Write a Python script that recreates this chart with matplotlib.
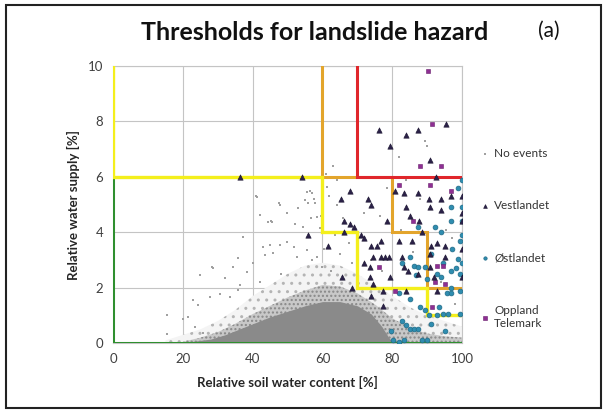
import matplotlib.pyplot as plt
import matplotlib.patches as patches

plt.rcParams['font.family'] = ['Lato', 'DejaVu Sans']
plt.rcParams['hatch.linewidth'] = 1.0

# --- Daten ---
# dichter Kern der "No events"-Punktwolke (Obergrenze)
core_x = [22, 28, 32, 36, 40, 45, 50, 55, 60, 65, 70, 74, 77, 79, 80]
core_top = [0.05, 0.15, 0.3, 0.5, 0.7, 0.95, 1.15, 1.35, 1.5, 1.5, 1.35, 1.05, 0.6, 0.2, 0.05]

# mitteldichte Punktwolke (Obergrenze)
mid_x = [20, 25, 30, 35, 40, 45, 50, 55, 60, 65, 70, 75, 80, 85, 90, 95, 100]
mid_top = [0.05, 0.2, 0.4, 0.7, 1.05, 1.35, 1.65, 1.9, 2.1, 2.05, 1.8, 1.4, 0.9, 0.55, 0.35, 0.25, 0.2]

# lockere Punktwolke (Obergrenze)
speck_x = [15, 20, 25, 30, 35, 40, 45, 50, 55, 60, 65, 70, 75, 80, 85, 90, 95, 100]
speck_top = [0.1, 0.3, 0.5, 0.8, 1.2, 1.7, 2.1, 2.5, 2.8, 2.9, 2.8, 2.5, 2.1, 1.7, 1.3, 1.0, 0.8, 0.6]

# einzelne "No events"-Punkte
noev_x = [41.2, 47.8, 49.8, 44.5, 45.5, 42.1, 53.1, 55.0, 55.5, 56.9, 55.9, 57.9, 52.1, 54.4,
          56.6, 58.4, 59.3, 43.0, 45.0, 47.8, 49.8, 37.3, 35.9, 34.5, 28.7, 24.9, 32.1, 38.3,
          40.2, 43.6, 45.9, 51.7, 52.6, 55.5, 56.9, 58.4, 59.8, 23.0, 24.4, 27.8, 30.7, 33.5,
          35.9, 21.6, 23.5, 25.9, 15.5, 15.5, 19.9, 28.2, 40.9, 45.3, 47.5, 63.0, 64.1, 56.4,
          57.5, 59.7, 61.3, 61.9, 64.1, 66.0, 63.5, 67.5, 65.0, 68.5, 62.5, 74.0, 77.0, 81.8,
          89.5, 90.0, 78.5, 84.0, 88.0, 95.5, 97.0, 86.0, 82.5, 76.5, 72.0, 94.0, 98.0, 43.0,
          39.0, 50.5, 53.5, 61.0, 42.0, 60.5, 48.0, 36.5]
noev_y = [5.28, 4.98, 4.68, 4.38, 4.38, 4.62, 4.86, 5.16, 5.46, 5.40, 5.05, 5.05, 4.30, 4.20,
          4.50, 4.56, 4.15, 3.48, 3.54, 3.54, 3.66, 3.84, 3.06, 2.75, 2.70, 2.45, 2.34, 2.57,
          2.88, 3.18, 3.24, 3.48, 3.12, 3.36, 3.00, 3.12, 2.75, 1.55, 1.37, 1.67, 1.79, 1.67,
          1.91, 0.95, 0.59, 0.35, 0.34, 1.00, 0.88, 2.75, 5.30, 4.40, 5.05, 6.40, 5.90, 5.50,
          5.20, 4.60, 5.65, 5.30, 5.00, 4.50, 3.90, 3.60, 3.20, 2.90, 2.60, 3.00, 2.60, 6.70,
          7.30, 7.10, 5.60, 5.90, 5.20, 4.10, 3.80, 3.30, 4.10, 4.60, 4.70, 2.20, 1.40, 6.00,
          6.00, 6.00, 6.00, 6.10, 2.20, 3.40, 2.50, 2.10]

# Vestlandet (Dreiecke)
vest_x = [36.5, 54.1, 76.2, 79.3, 83.8, 87.3, 95.4, 90.9, 92.6, 80.9, 83.4, 87.3, 90.6, 93.9,
          96.7, 100.0, 67.9, 65.2, 72.9, 73.8, 83.8, 90.8, 93.9, 78.5, 85.1, 87.6, 100.0, 100.0,
          66.3, 67.9, 69.0, 66.3, 55.8, 61.7, 70.9, 71.8, 73.8, 75.7, 76.8, 81.8, 85.6, 88.4,
          91.2, 92.9, 95.0, 100.0, 74.6, 76.8, 78.0, 79.0, 71.8, 73.5, 65.7, 82.9, 83.4, 84.5,
          87.3, 90.9, 90.9, 91.9, 100.0, 95.0, 68.5, 73.5, 74.6, 79.3, 74.0, 77.3, 77.3, 84.0,
          92.8]
vest_y = [6.0, 6.0, 7.7, 7.1, 7.5, 7.7, 7.9, 6.6, 6.0, 5.5, 5.4, 5.4, 5.2, 5.2,
          5.3, 5.3, 5.5, 5.2, 5.2, 5.0, 4.9, 4.9, 4.8, 4.4, 4.6, 4.4, 4.7, 4.4,
          4.4, 4.3, 4.2, 4.0, 3.9, 3.5, 3.9, 3.8, 3.5, 3.5, 3.7, 3.7, 3.7, 4.0,
          3.5, 3.6, 3.5, 3.4, 3.1, 3.1, 3.1, 3.1, 2.9, 2.75, 2.4, 3.1, 2.75, 2.6,
          2.5, 3.2, 2.75, 2.4, 2.4, 3.1, 2.0, 2.4, 2.15, 2.4, 1.7, 1.35, 1.9, 1.9,
          1.9]

# Østlandet (Kreise)
ost_x = [100.0, 98.9, 96.7, 100.0, 92.3, 96.7, 100.0, 87.3, 93.9, 100.0, 99.4, 97.2, 91.2,
         85.1, 82.9, 86.2, 87.3, 89.5, 94.5, 98.9, 100.0, 96.7, 98.3, 99.4, 92.8, 93.9, 86.7,
         89.9, 96.7, 99.4, 81.8, 95.6, 96.7, 85.1, 87.8, 89.5, 93.4, 90.6, 92.8, 94.5, 96.1,
         82.9, 85.1, 84.0, 86.2, 87.3, 79.6, 80.1, 81.8, 83.4, 88.4, 90.0, 95.0, 91.2, 99.4]
ost_y = [5.9, 5.6, 4.9, 4.9, 4.2, 4.4, 4.4, 4.2, 4.0, 3.9, 3.7, 3.4, 3.2,
         3.1, 2.9, 2.8, 2.75, 2.75, 2.9, 3.05, 2.9, 2.6, 2.7, 2.5, 2.5, 2.4, 2.45,
         2.3, 2.0, 1.9, 1.8, 1.8, 1.8, 1.6, 1.3, 1.2, 1.3, 1.0, 1.0, 1.06, 1.06,
         0.8, 0.5, 0.65, 0.5, 0.5, 0.45, 0.1, 0.05, 0.1, 0.1, 0.1, 0.45, 0.7, 1.05]

# Oppland Telemark (Quadrate)
opp_x = [90.3, 91.5, 87.8, 94.1, 82.0, 90.9, 96.7, 85.9, 92.8, 94.5, 92.3, 95.0, 91.5, 80.7, 76.2]
opp_y = [9.8, 7.9, 6.4, 6.4, 5.7, 5.7, 5.5, 4.4, 2.8, 2.8, 2.2, 2.15, 1.3, 1.9, 2.75]

# Schwellenwerte
green_x = [0, 0, 100]
green_y = [6, 0, 0]
yellow_x = [0, 0, 60, 60, 70, 70, 90, 90, 100]
yellow_y = [10, 6, 6, 4, 4, 2, 2, 1, 1]
orange_x = [60, 60, 80, 80, 90, 90, 100]
orange_y = [10, 6, 6, 4, 4, 2, 2]
red_x = [70, 70, 100]
red_y = [10, 6, 6]

fig = plt.figure(figsize=(6.08, 4.12), dpi=100)
ax = fig.add_axes([0.186, 0.167, 0.574, 0.673])

# Punktwolke
ax.fill_between(speck_x, 0, speck_top, facecolor='#f4f4f4', edgecolor='#b4b4b4',
                hatch='..', linewidth=0, zorder=1)
ax.fill_between(mid_x, 0, mid_top, facecolor='#c8c8c8', edgecolor='#888888',
                hatch='....', linewidth=0, zorder=1.2)
ax.fill_between(core_x, 0, core_top, color='#8a8a8a', linewidth=0, zorder=1.5)
ax.scatter(noev_x, noev_y, s=3, color='#a0a0a0', marker='s', linewidths=0, zorder=2,
           label='No events')

# Schwellenlinien
ax.plot(green_x, green_y, color='#2f8f2f', lw=2.2, zorder=3, solid_joinstyle='miter')
ax.plot(orange_x, orange_y, color='#e3a52c', lw=2.2, zorder=3.1, solid_joinstyle='miter')
ax.plot(yellow_x, yellow_y, color='#f4ef1c', lw=2.4, zorder=3.2, solid_joinstyle='miter')
ax.plot(red_x, red_y, color='#e0262b', lw=2.2, zorder=3.3, solid_joinstyle='miter')

# Ereignisse
ax.scatter(vest_x, vest_y, s=15, marker='^', color='#2b2148', edgecolors='#1a1430',
           linewidths=0.4, zorder=5, label='Vestlandet')
ax.scatter(ost_x, ost_y, s=12, marker='o', color='#2f8db0', edgecolors='#1f6a86',
           linewidths=0.5, zorder=4, label='Østlandet')
ax.scatter(opp_x, opp_y, s=11, marker='s', color='#8e2f93', edgecolors='#6a1f6e',
           linewidths=0.4, zorder=4.5, label='Oppland\nTelemark')

ax.set_xlim(0, 100)
ax.set_ylim(0, 10)
ax.set_xticks(range(0, 101, 20))
ax.set_yticks(range(0, 11, 2))
ax.grid(True, color='#c4c4c4', linewidth=0.8)
ax.set_axisbelow(True)
for s in ax.spines.values():
    s.set_color('#c4c4c4')
    s.set_linewidth(0.8)
ax.tick_params(length=0, pad=7, labelsize=9.5, labelcolor='#404040')

ax.set_xlabel('Relative soil water content [%]', fontsize=9.5, fontweight='bold',
              color='#262626', labelpad=8)
ax.set_ylabel('Relative water supply [%]', fontsize=9.5, fontweight='bold',
              color='#262626', labelpad=6)

fig.text(0.518, 0.922, 'Thresholds for landslide hazard', fontsize=18, fontweight='bold',
         ha='center', va='center', color='#111111')
fig.text(0.902, 0.925, '(a)', fontsize=15, ha='center', va='center', color='#111111')

leg = ax.legend(loc='upper left', bbox_to_anchor=(0.78, 1 - 142 / 412),
                bbox_transform=fig.transFigure, frameon=False, fontsize=8.5,
                labelspacing=3.5, handlelength=0.8, handletextpad=0.4, borderpad=0,
                markerscale=0.7)
for t in leg.get_texts():
    t.set_color('#333333')

fig.patches.append(patches.Rectangle((0.01, 0.01), 0.978, 0.978, transform=fig.transFigure,
                                     fill=False, edgecolor='#222222', linewidth=1.5))

plt.savefig('out.png', dpi=100)
plt.close()
